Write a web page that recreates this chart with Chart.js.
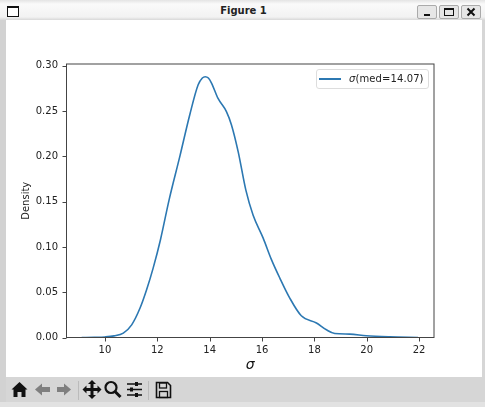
<!DOCTYPE html>
<html>
<head>
<meta charset="utf-8">
<script src="https://cdn.jsdelivr.net/npm/chart.js@4"></script>
<style>
  html, body { margin: 0; padding: 0; background: #fff; }
  body { width: 485px; height: 407px; position: relative; overflow: hidden; font-family: "DejaVu Sans", sans-serif; }
  #leftEdge { position: absolute; left: 0; top: 20px; width: 6px; height: 387px; background: #d2d2d2; }
  #rightEdge { position: absolute; left: 482px; top: 20px; width: 3px; height: 387px; background: #d6d6d6; }
  #titleBar { position: absolute; left: 0; top: 0; width: 485px; height: 20px; background: linear-gradient(#e4e4e4, #fafafa 20%, #f2f2f2 85%, #d8d8d8); }
  #title { position: absolute; left: 0; width: 487px; top: 5px; text-align: center; font-size: 10px; font-weight: bold; color: #222; }
  #winIcon { position: absolute; left: 7px; top: 6px; width: 10px; height: 8px; border: 1px solid #111; border-top-width: 2px; background: #fff; }
  .winBtn { position: absolute; top: 5px; width: 18px; height: 12px; border: 1px solid #aaa; border-radius: 2px; background: #e6e6e6; }
  .winBtn svg { position: absolute; left: 0; top: 0; }
  #plot { position: absolute; left: 6px; top: 20px; width: 476px; height: 357px; }
  #toolbar { position: absolute; left: 6px; top: 377px; width: 476px; height: 25px; background: #d6d6d6; }
  #toolbar svg { position: absolute; left: 0; top: 0; }
  #bottomStrip { position: absolute; left: 0; top: 402px; width: 485px; height: 5px; background: #e2e2e2; }
  #legend { position: absolute; left: 316px; top: 69px; width: 113px; height: 20px; box-sizing: border-box; border: 1px solid #ddd; border-radius: 3px; background: #fff; font-size: 10px; color: #222; line-height: 18px; white-space: nowrap; }
  #legend i { position: absolute; left: 2px; top: 8px; width: 22px; height: 2px; background: #2c78b2; }
  #legend span { position: absolute; left: 32px; top: 0; letter-spacing: 0.1px; }
</style>
</head>
<body>
<div id="leftEdge"></div>
<div id="rightEdge"></div>
<div id="titleBar">
  <div id="winIcon"></div>
  <div id="title">Figure 1</div>
  <div class="winBtn" style="left:417px"><svg width="18" height="12"><rect x="6" y="8" width="6" height="2" fill="#111"/></svg></div>
  <div class="winBtn" style="left:439px"><svg width="18" height="12"><rect x="4.5" y="2.5" width="9" height="7" fill="none" stroke="#111"/><rect x="4" y="2" width="10" height="2" fill="#111"/></svg></div>
  <div class="winBtn" style="left:461px"><svg width="18" height="12"><path d="M5.5 2.5 L12.5 9.5 M12.5 2.5 L5.5 9.5" stroke="#111" stroke-width="2"/></svg></div>
</div>
<div id="plot"><canvas id="chart" width="476" height="357"></canvas></div>
<div id="legend"><i></i><span></span></div>
<div id="toolbar">
  <svg width="476" height="25">
    <path d="M13.5 5 L5.5 12.5 H7.5 V20 H11.5 V15 H15.5 V20 H19.5 V12.5 H21.5 Z" fill="#111"/>
    <path d="M29 12.5 L36 6.5 V10 H44 V15 H36 V18.5 Z" fill="#7f7f7f"/>
    <path d="M65 12.5 L58 6.5 V10 H51 V15 H58 V18.5 Z" fill="#7f7f7f"/>
    <line x1="72.5" y1="4" x2="72.5" y2="23" stroke="#bbb"/>
    <path d="M86 3 L90 7 H87.5 V11 H91.5 V8.5 L95.5 12.5 L91.5 16.5 V14 H87.5 V18 H90 L86 22 L82 18 H84.5 V14 H80.5 V16.5 L76.5 12.5 L80.5 8.5 V11 H84.5 V7 H82 Z" fill="#111"/>
    <circle cx="105" cy="10.5" r="5.5" fill="none" stroke="#111" stroke-width="2.2"/>
    <line x1="109" y1="14.5" x2="114.5" y2="20" stroke="#111" stroke-width="3"/>
    <path d="M121 7 H136 M121 12.5 H136 M121 18 H136" stroke="#111" stroke-width="1.5"/>
    <rect x="129" y="5" width="3" height="4" fill="#111"/><rect x="124" y="10.5" width="3" height="4" fill="#111"/><rect x="129" y="16" width="3" height="4" fill="#111"/>
    <line x1="142.5" y1="4" x2="142.5" y2="23" stroke="#bbb"/>
    <path d="M150.5 5.5 H161.5 L164.5 8.5 V20.5 H150.5 Z" fill="none" stroke="#111" stroke-width="1.6"/>
    <rect x="153.5" y="6" width="7" height="5" fill="none" stroke="#111" stroke-width="1.3"/>
    <rect x="153.5" y="14.5" width="8" height="6" fill="none" stroke="#111" stroke-width="1.3"/>
  </svg>
</div>
<div id="bottomStrip"></div>
<script>
  const xValues = [9.11, 9.6, 10, 10.35, 10.7, 11.02, 11.34, 11.59, 11.84, 12.12, 12.45, 12.86, 13.24, 13.56, 13.72, 13.83, 13.95, 14.07, 14.32, 14.64, 14.83, 15.09, 15.38, 15.66, 16.04, 16.36, 16.68, 17.06, 17.5, 18.08, 18.46, 18.78, 19.35, 19.98, 20.88, 21.96];
  const densityValues = [0, 0.0002, 0.0006, 0.0018, 0.0049, 0.014, 0.0325, 0.0527, 0.0766, 0.108, 0.152, 0.2, 0.246, 0.279, 0.2865, 0.288, 0.2865, 0.281, 0.264, 0.2495, 0.235, 0.205, 0.163, 0.135, 0.11, 0.086, 0.0656, 0.0435, 0.024, 0.016, 0.0085, 0.0044, 0.0037, 0.0019, 0.0007, 0];
  const xTicks = [10, 12, 14, 16, 18, 20, 22];
  const yTicks = [0, 0.05, 0.1, 0.15, 0.2, 0.25, 0.3];
  const seriesLabel = '(med=14.07)';
  const sigma = 'σ';

  document.querySelector('#legend span').innerHTML = '<em>' + sigma + '</em>' + seriesLabel;

  new Chart(document.getElementById('chart'), {
    type: 'line',
    data: {
      datasets: [{
        label: sigma + seriesLabel,
        data: xValues.map((x, i) => ({ x: x, y: densityValues[i] })),
        borderColor: '#2c78b2',
        borderWidth: 1.6,
        pointRadius: 0,
        cubicInterpolationMode: 'monotone',
      }],
    },
    options: {
      animation: false,
      responsive: false,
      layout: { padding: { left: 0, right: 48, top: 44, bottom: 0 } },
      plugins: { legend: { display: false }, tooltip: { enabled: false } },
      scales: {
        x: {
          type: 'linear',
          min: 8.53,
          max: 22.57,
          afterBuildTicks: (scale) => { scale.ticks = xTicks.map((v) => ({ value: v })); },
          afterFit: (scale) => { scale.height = 39.5; },
          grid: { display: false, drawTicks: false },
          border: { display: false },
          ticks: { color: '#222', font: { family: 'DejaVu Sans', size: 10 }, maxRotation: 0, padding: 6.5, callback: (v) => String(v) },
          title: { display: true, text: sigma, color: '#111', font: { family: 'DejaVu Sans', size: 14, style: 'italic' }, padding: { top: 2, bottom: 3 } },
        },
        y: {
          min: 0,
          max: 0.302,
          afterBuildTicks: (scale) => { scale.ticks = yTicks.map((v) => ({ value: v })); },
          afterFit: (scale) => { scale.width = 60.5; },
          grid: { display: false, drawTicks: false },
          border: { display: false },
          ticks: { color: '#222', font: { family: 'DejaVu Sans', size: 10 }, padding: 8.5, callback: (v) => v.toFixed(2) },
          title: { display: true, text: 'Density', color: '#222', font: { family: 'DejaVu Sans', size: 10 }, padding: { top: 14, bottom: 0 } },
        },
      },
    },
    plugins: [{
      // рамка и засечки как в matplotlib
      id: 'frame',
      afterDraw(chart) {
        const { ctx, chartArea: a, scales } = chart;
        ctx.save();
        ctx.strokeStyle = '#444';
        ctx.lineWidth = 1;
        ctx.strokeRect(a.left, a.top, a.right - a.left, a.bottom - a.top);
        ctx.beginPath();
        xTicks.forEach((v) => {
          const px = Math.round(scales.x.getPixelForValue(v)) + 0.5;
          ctx.moveTo(px, a.bottom);
          ctx.lineTo(px, a.bottom + 4);
        });
        yTicks.forEach((v) => {
          const py = Math.round(scales.y.getPixelForValue(v)) + 0.5;
          ctx.moveTo(a.left - 4, py);
          ctx.lineTo(a.left, py);
        });
        ctx.stroke();
        ctx.restore();
      },
    }],
  });
</script>
</body>
</html>
